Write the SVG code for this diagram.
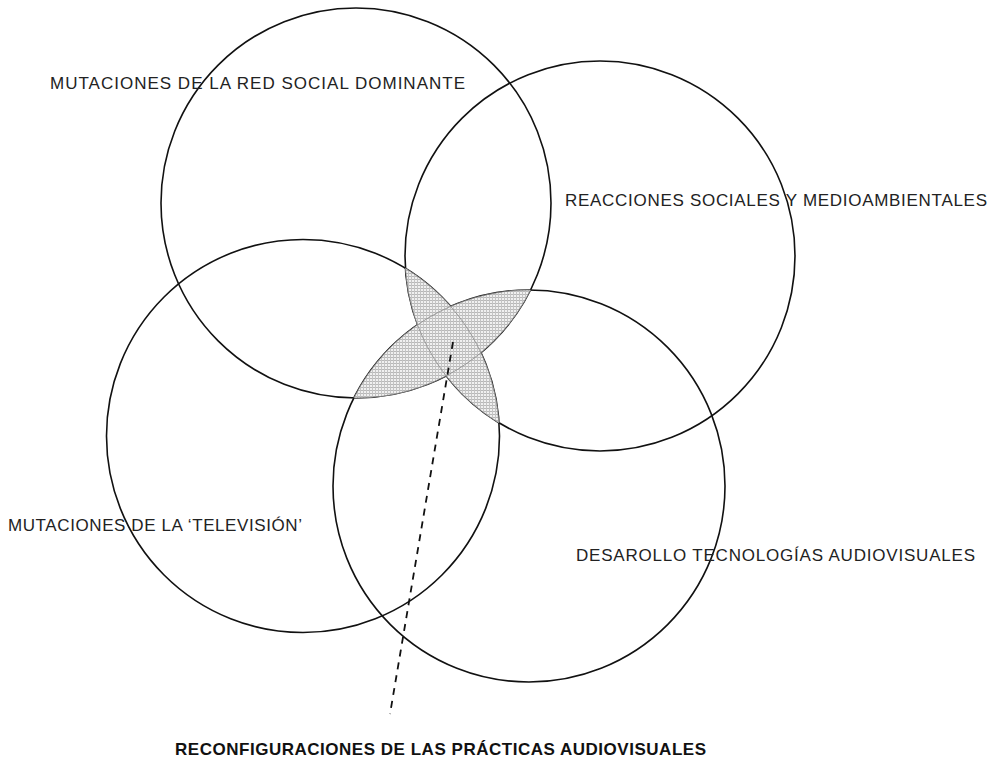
<svg xmlns="http://www.w3.org/2000/svg" width="998" height="761" viewBox="0 0 998 761">
  <style>
    .ring { fill: none; stroke: #111; stroke-width: 1.6; }
    .lbl { font-family: "Liberation Sans", "DejaVu Sans", sans-serif; font-size: 17px; fill: #222; }
    .title { font-family: "Liberation Sans", "DejaVu Sans", sans-serif; font-size: 17px; font-weight: bold; fill: #111; }
    .lens { fill: url(#hatch); stroke: none; }
    .lensline { fill: none; stroke: #8a8a8a; stroke-width: 0.8; }
    .dash { stroke: #111; stroke-width: 1.8; stroke-dasharray: 7 6; fill: none; }
  </style>
  <defs>
    <pattern id="hatch" width="3" height="3" patternUnits="userSpaceOnUse">
      <rect width="3" height="3" fill="#f0f0f0"/>
      <rect width="3" height="1" fill="#b8b8b8"/>
      <rect width="1" height="3" fill="#c4c4c4"/>
    </pattern>
  </defs>
  <rect width="998" height="761" fill="#fff"/>

  <g id="node-red-social">
    <circle class="ring" cx="356" cy="203" r="195"/>
    <text class="lbl" x="50" y="89" textLength="415">MUTACIONES DE LA RED SOCIAL DOMINANTE</text>
  </g>
  <g id="node-reacciones">
    <circle class="ring" cx="600" cy="256" r="195"/>
    <text class="lbl" x="565" y="206" textLength="422">REACCIONES SOCIALES Y MEDIOAMBIENTALES</text>
  </g>
  <g id="node-television">
    <circle class="ring" cx="303" cy="436" r="196.5"/>
    <text class="lbl" x="8" y="531" textLength="294">MUTACIONES DE LA ‘TELEVISIÓN’</text>
  </g>
  <g id="node-tecnologias">
    <circle class="ring" cx="529" cy="486" r="196"/>
    <text class="lbl" x="576" y="561" textLength="399">DESAROLLO TECNOLOGÍAS AUDIOVISUALES</text>
  </g>

  <g id="node-intersection">
    <path class="lens" d="M353.9 398 A195 195 0 0 0 530.5 290 A196 196 0 0 0 353.9 398 Z"/>
    <path class="lens" d="M405.4 268.3 A195 195 0 0 0 499 422.9 A196.5 196.5 0 0 0 405.4 268.3 Z"/>
    <path class="lensline" d="M353.9 398 A195 195 0 0 0 530.5 290 A196 196 0 0 0 353.9 398 Z"/>
    <path class="lensline" d="M405.4 268.3 A195 195 0 0 0 499 422.9 A196.5 196.5 0 0 0 405.4 268.3 Z"/>
  </g>

  <g id="connectors">
    <line class="dash" x1="453" y1="342" x2="390" y2="714"/>
  </g>

  <g id="node-reconfiguraciones">
    <text class="title" x="175" y="755" textLength="531">RECONFIGURACIONES DE LAS PRÁCTICAS AUDIOVISUALES</text>
  </g>
</svg>
